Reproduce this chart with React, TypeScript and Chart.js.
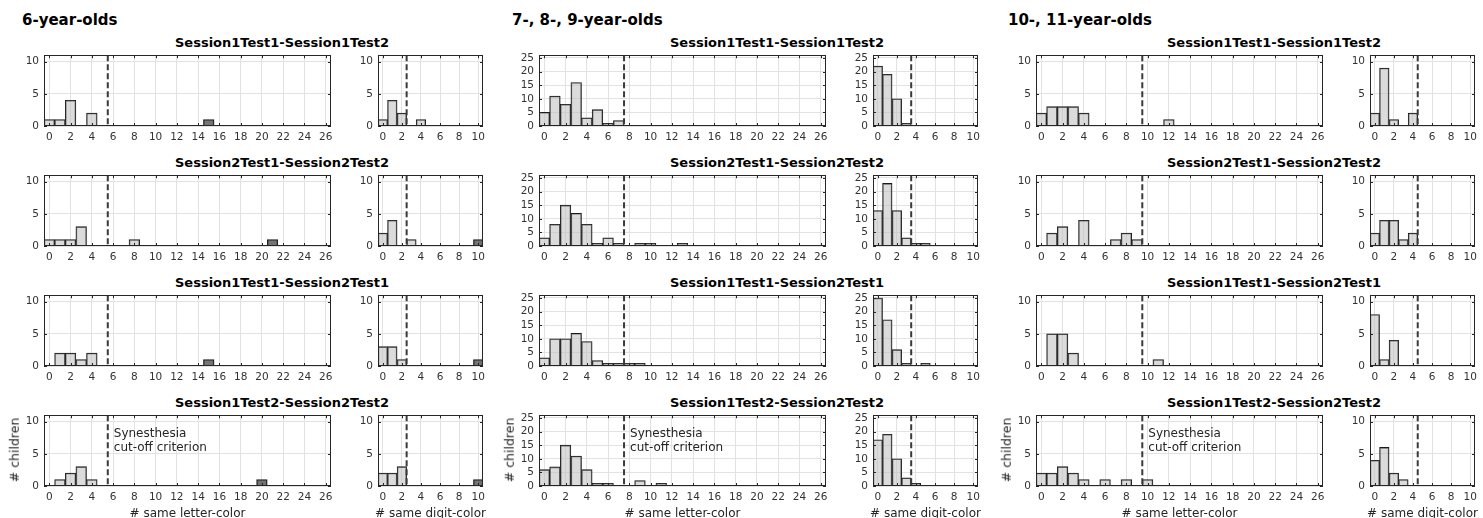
import React, { useEffect, useRef } from 'react';
import { Chart, registerables } from 'chart.js';

Chart.register(...registerables);

// ---------- categories / labels ----------
const letterBins = [0, 1, 2, 3, 4, 5, 6, 7, 8, 9, 10, 11, 12, 13, 14, 15, 16, 17, 18, 19, 20, 21, 22, 23, 24, 25, 26];
const digitBins = [0, 1, 2, 3, 4, 5, 6, 7, 8, 9, 10];
const groupTitles = ['6-year-olds', '7-, 8-, 9-year-olds', '10-, 11-year-olds'];
const pairTitles = [
  'Session1Test1-Session1Test2',
  'Session2Test1-Session2Test2',
  'Session1Test1-Session2Test1',
  'Session1Test2-Session2Test2',
];
const letterCutoffs = [5.5, 7.5, 9.5];
const digitCutoffs = [2.5, 3.5, 4.5];
const yMaxes = [11, 26, 11];
const noteLines = ['Synesthesia', 'cut-off criterion'];
const xTitleLetter = '# same letter-color';
const xTitleDigit = '# same digit-color';
const yTitle = '# children';

// ---------- 6-year-olds ----------
const age6Letter1 = [1, 1, 4, 0, 2, 0, 0, 0, 0, 0, 0, 0, 0, 0, 0, 1, 0, 0, 0, 0, 0, 0, 0, 0, 0, 0, 0];
const age6Digit1 = [1, 4, 2, 0, 1, 0, 0, 0, 0, 0, 0];
const age6Letter2 = [1, 1, 1, 3, 0, 0, 0, 0, 1, 0, 0, 0, 0, 0, 0, 0, 0, 0, 0, 0, 0, 1, 0, 0, 0, 0, 0];
const age6Digit2 = [2, 4, 0, 1, 0, 0, 0, 0, 0, 0, 1];
const age6Letter3 = [0, 2, 2, 1, 2, 0, 0, 0, 0, 0, 0, 0, 0, 0, 0, 1, 0, 0, 0, 0, 0, 0, 0, 0, 0, 0, 0];
const age6Digit3 = [3, 3, 1, 0, 0, 0, 0, 0, 0, 0, 1];
const age6Letter4 = [0, 1, 2, 3, 1, 0, 0, 0, 0, 0, 0, 0, 0, 0, 0, 0, 0, 0, 0, 0, 1, 0, 0, 0, 0, 0, 0];
const age6Digit4 = [2, 2, 3, 0, 0, 0, 0, 0, 0, 0, 1];
// bin of the synesthete child's bar (dark) per row, null = none
const age6LetterSyn = [15, 21, 15, 20];
const age6DigitSyn = [null, 10, 10, 10];

// ---------- 7-, 8-, 9-year-olds ----------
const age79Letter1 = [5, 11, 8, 16, 3, 6, 1, 2, 0, 0, 0, 0, 0, 0, 0, 0, 0, 0, 0, 0, 0, 0, 0, 0, 0, 0, 0];
const age79Digit1 = [22, 19, 10, 1, 0, 0, 0, 0, 0, 0, 0];
const age79Letter2 = [3, 8, 15, 12, 8, 1, 3, 1, 0, 1, 1, 0, 0, 1, 0, 0, 0, 0, 0, 0, 0, 0, 0, 0, 0, 0, 0];
const age79Digit2 = [13, 23, 13, 3, 1, 1, 0, 0, 0, 0, 0];
const age79Letter3 = [3, 10, 10, 12, 9, 2, 1, 1, 1, 1, 0, 0, 0, 0, 0, 0, 0, 0, 0, 0, 0, 0, 0, 0, 0, 0, 0];
const age79Digit3 = [25, 17, 6, 1, 0, 1, 0, 0, 0, 0, 0];
const age79Letter4 = [6, 7, 15, 11, 6, 1, 1, 0, 0, 2, 0, 1, 0, 0, 0, 0, 0, 0, 0, 0, 0, 0, 0, 0, 0, 0, 0];
const age79Digit4 = [17, 19, 10, 3, 1, 0, 0, 0, 0, 0, 0];
const age79LetterSyn = [null, null, null, null];
const age79DigitSyn = [null, null, null, null];

// ---------- 10-, 11-year-olds ----------
const age1011Letter1 = [2, 3, 3, 3, 2, 0, 0, 0, 0, 0, 0, 0, 1, 0, 0, 0, 0, 0, 0, 0, 0, 0, 0, 0, 0, 0, 0];
const age1011Digit1 = [2, 9, 1, 0, 2, 0, 0, 0, 0, 0, 0];
const age1011Letter2 = [0, 2, 3, 0, 4, 0, 0, 1, 2, 1, 0, 0, 0, 0, 0, 0, 0, 0, 0, 0, 0, 0, 0, 0, 0, 0, 0];
const age1011Digit2 = [2, 4, 4, 1, 2, 0, 0, 0, 0, 0, 0];
const age1011Letter3 = [0, 5, 5, 2, 0, 0, 0, 0, 0, 0, 0, 1, 0, 0, 0, 0, 0, 0, 0, 0, 0, 0, 0, 0, 0, 0, 0];
const age1011Digit3 = [8, 1, 4, 0, 0, 0, 0, 0, 0, 0, 0];
const age1011Letter4 = [2, 2, 3, 2, 1, 0, 1, 0, 1, 0, 1, 0, 0, 0, 0, 0, 0, 0, 0, 0, 0, 0, 0, 0, 0, 0, 0];
const age1011Digit4 = [4, 6, 2, 1, 0, 0, 0, 0, 0, 0, 0];
const age1011LetterSyn = [null, null, null, null];
const age1011DigitSyn = [null, null, null, null];

const letterData = [
  [age6Letter1, age6Letter2, age6Letter3, age6Letter4],
  [age79Letter1, age79Letter2, age79Letter3, age79Letter4],
  [age1011Letter1, age1011Letter2, age1011Letter3, age1011Letter4],
];
const digitData = [
  [age6Digit1, age6Digit2, age6Digit3, age6Digit4],
  [age79Digit1, age79Digit2, age79Digit3, age79Digit4],
  [age1011Digit1, age1011Digit2, age1011Digit3, age1011Digit4],
];
const letterSyn = [age6LetterSyn, age79LetterSyn, age1011LetterSyn];
const digitSyn = [age6DigitSyn, age79DigitSyn, age1011DigitSyn];

// ---------- layout / style ----------
const FONT = "'DejaVu Sans', 'Liberation Sans', sans-serif";
const groupLeft = [44, 539, 1036];
const groupTitleLeft = [22, 512, 1008];
const LETTER_W = 287;
const DIGIT_OFF = 334;
const DIGIT_W = 105;
const rowTops = [53, 173, 293, 413];
const AXES_H = 73;
const LIGHT = 'rgba(190,190,190,0.55)';
const DARK = 'rgba(70,70,70,0.75)';
const EDGE = '#1a1a1a';
const GRID = '#e2e2e2';
const AXIS = '#262626';
const TICK_COLOR = '#333333';

const Y_W = 40;
const PAD_T = 8;
const PAD_R = 10;
const X_H = 24;

type PanelProps = {
  left: number;
  top: number;
  width: number;
  height: number;
  bins: number[];
  values: number[];
  syn: number | null;
  ymax: number;
  cutoff: number;
  note: boolean;
};

function Panel({ left, top, width, height, bins, values, syn, ymax, cutoff, note }: PanelProps) {
  const ref = useRef<HTMLCanvasElement>(null);
  const cw = Y_W + width + PAD_R;
  const ch = PAD_T + height + X_H;

  useEffect(() => {
    if (!ref.current) return;
    const framePlugin = {
      id: 'frame',
      afterDatasetsDraw(chart: any) {
        const { ctx, chartArea: a, scales } = chart;
        const xs = scales.x;
        const ys = scales.y;
        ctx.save();
        // cut-off dashed line
        const cx = xs.getPixelForValue(cutoff);
        ctx.strokeStyle = '#3a3a3a';
        ctx.lineWidth = 2;
        ctx.setLineDash([6, 3]);
        ctx.beginPath();
        ctx.moveTo(cx, a.top);
        ctx.lineTo(cx, a.bottom);
        ctx.stroke();
        ctx.setLineDash([]);
        // box
        ctx.strokeStyle = AXIS;
        ctx.lineWidth = 1;
        ctx.strokeRect(Math.round(a.left) + 0.5, Math.round(a.top) + 0.5, Math.round(a.right - a.left) - 1, Math.round(a.bottom - a.top) - 1);
        // inward tick marks
        ctx.beginPath();
        xs.ticks.forEach((t: any) => {
          const px = Math.round(xs.getPixelForValue(t.value)) + 0.5;
          ctx.moveTo(px, a.bottom);
          ctx.lineTo(px, a.bottom - 3);
          ctx.moveTo(px, a.top);
          ctx.lineTo(px, a.top + 3);
        });
        ys.ticks.forEach((t: any) => {
          const py = Math.round(ys.getPixelForValue(t.value)) + 0.5;
          ctx.moveTo(a.left, py);
          ctx.lineTo(a.left + 3, py);
          ctx.moveTo(a.right, py);
          ctx.lineTo(a.right - 3, py);
        });
        ctx.stroke();
        if (note) {
          ctx.fillStyle = AXIS;
          ctx.font = `12px ${FONT}`;
          ctx.textBaseline = 'middle';
          ctx.textAlign = 'left';
          ctx.fillText(noteLines[0], cx + 6, a.top + 19);
          ctx.fillText(noteLines[1], cx + 6, a.top + 33);
        }
        ctx.restore();
      },
    };

    const chart = new Chart(ref.current, {
      type: 'bar',
      data: {
        datasets: [
          {
            data: bins.map((b, i) => ({ x: b, y: values[i] })),
            backgroundColor: bins.map((b) => (b === syn ? DARK : LIGHT)),
            borderColor: EDGE,
            borderWidth: 0.9,
            barPercentage: 1,
            categoryPercentage: 1,
          } as any,
        ],
      },
      options: {
        animation: false,
        responsive: false,
        maintainAspectRatio: false,
        devicePixelRatio: 1,
        layout: { padding: { top: PAD_T, right: PAD_R, left: 0, bottom: 0 } },
        plugins: { legend: { display: false }, tooltip: { enabled: false }, title: { display: false } },
        scales: {
          x: {
            type: 'linear',
            min: bins[0] - 0.5,
            max: bins[bins.length - 1] + 0.5,
            offset: false,
            ticks: {
              stepSize: 2,
              includeBounds: false,
              autoSkip: false,
              maxRotation: 0,
              padding: 5,
              color: TICK_COLOR,
              font: { family: FONT, size: 10.5 },
            },
            grid: { color: GRID, drawTicks: false, offset: false },
            border: { display: false },
            afterFit: (s: any) => {
              s.height = X_H;
            },
          },
          y: {
            min: 0,
            max: ymax,
            ticks: {
              stepSize: 5,
              includeBounds: false,
              autoSkip: false,
              padding: 5,
              color: TICK_COLOR,
              font: { family: FONT, size: 10.5, lineHeight: 1 },
            },
            grid: { color: GRID, drawTicks: false },
            border: { display: false },
            afterFit: (s: any) => {
              s.width = Y_W;
            },
          },
        },
      } as any,
      plugins: [framePlugin],
    });
    return () => chart.destroy();
  }, []);

  return (
    <canvas
      ref={ref}
      width={cw}
      height={ch}
      style={{ position: 'absolute', left: left - Y_W, top: top - PAD_T, width: cw, height: ch }}
    />
  );
}

const abs = (extra: React.CSSProperties): React.CSSProperties => ({
  position: 'absolute',
  whiteSpace: 'nowrap',
  fontFamily: FONT,
  lineHeight: 1,
  ...extra,
});

export default function App() {
  const items: React.ReactNode[] = [];
  groupTitles.forEach((gt, g) => {
    const L = groupLeft[g];
    items.push(
      <div key={`gt${g}`} style={abs({ left: groupTitleLeft[g], top: 20, transform: 'translateY(-50%)', fontSize: 15, fontWeight: 'bold', color: '#000' })}>
        {gt}
      </div>
    );
    rowTops.forEach((T, r) => {
      items.push(
        <div key={`rt${g}-${r}`} style={abs({ left: L + 238, top: T - 11, transform: 'translate(-50%,-50%)', fontSize: 13, fontWeight: 'bold', color: '#000' })}>
          {pairTitles[r]}
        </div>
      );
      items.push(
        <Panel
          key={`l${g}-${r}`}
          left={L}
          top={T}
          width={LETTER_W}
          height={AXES_H}
          bins={letterBins}
          values={letterData[g][r]}
          syn={letterSyn[g][r]}
          ymax={yMaxes[g]}
          cutoff={letterCutoffs[g]}
          note={r === 3}
        />
      );
      items.push(
        <Panel
          key={`d${g}-${r}`}
          left={L + DIGIT_OFF}
          top={T}
          width={DIGIT_W}
          height={AXES_H}
          bins={digitBins}
          values={digitData[g][r]}
          syn={digitSyn[g][r]}
          ymax={yMaxes[g]}
          cutoff={digitCutoffs[g]}
          note={false}
        />
      );
    });
    const bottom = rowTops[3] + AXES_H;
    items.push(
      <div key={`xl${g}`} style={abs({ left: L + LETTER_W / 2, top: bottom + 27, transform: 'translate(-50%,-50%)', fontSize: 12, color: AXIS })}>
        {xTitleLetter}
      </div>
    );
    items.push(
      <div key={`xd${g}`} style={abs({ left: L + DIGIT_OFF + DIGIT_W / 2, top: bottom + 27, transform: 'translate(-50%,-50%)', fontSize: 12, color: AXIS })}>
        {xTitleDigit}
      </div>
    );
    items.push(
      <div key={`yl${g}`} style={abs({ left: L - 29, top: rowTops[3] + AXES_H / 2, transform: 'translate(-50%,-50%) rotate(-90deg)', fontSize: 12.5, color: AXIS })}>
        {yTitle}
      </div>
    );
  });

  return (
    <div style={{ position: 'absolute', left: 0, top: 0, width: 1483, height: 518, background: '#fff', overflow: 'hidden' }}>
      {items}
    </div>
  );
}
